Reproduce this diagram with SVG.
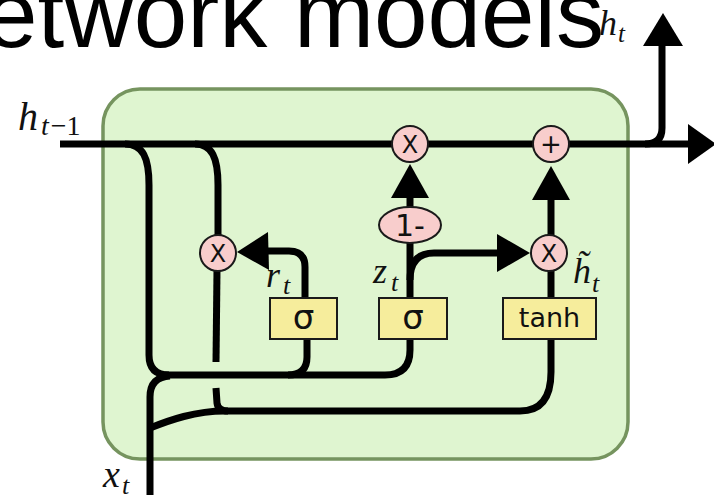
<svg xmlns="http://www.w3.org/2000/svg" width="714" height="495" viewBox="0 0 714 495">
  <style>
    .cell { fill: #dff5d0; stroke: #76945f; stroke-width: 3.5; }
    .wire { fill: none; stroke: #000; stroke-width: 7; stroke-linejoin: round; }
    .head { fill: #000; }
    .op { fill: #f8cdcc; stroke: #1a1a1a; stroke-width: 2; }
    .layer { fill: #f6ed9c; stroke: #1a1a1a; stroke-width: 2; }
    .optxt { font-family: "DejaVu Sans", sans-serif; fill: #111; text-anchor: middle; }
    .math { font-family: "Liberation Serif", "DejaVu Serif", serif; font-style: italic; fill: #111; }
    .title { font-family: "Liberation Sans", Arial, sans-serif; fill: #000; }
  </style>

  <!-- heading fragment above the cell -->
  <text class="title" x="-16" y="47" font-size="96" textLength="620" lengthAdjust="spacingAndGlyphs">etwork models</text>

  <!-- GRU cell body -->
  <rect id="cell" class="cell" x="103" y="89" width="525" height="370" rx="37" ry="37"/>

  <g id="connectors">
    <!-- hidden state path h(t-1) to h(t) -->
    <path class="wire" d="M60,144 L692,144"/>
    <polygon class="head" points="688,124 716,144 688,164"/>
    <path class="wire" d="M645,144 Q662,144 662,128 L662,44"/>
    <polygon class="head" points="643,46 663,13 683,46"/>

    <!-- branches of h(t-1) -->
    <path class="wire" d="M125,144 C143,144 149,158 149,185 L149,355 Q149,375 169,375"/>
    <path class="wire" d="M195,144 C212,144 218,158 218,185 L218,236"/>
    <path class="wire" d="M217,270 L216,362"/>
    <path class="wire" d="M216,388 L217,403 Q218,411 228,411"/>

    <!-- input x(t) -->
    <path class="wire" d="M150,498 L150,397 Q150,377 170,376"/>
    <path class="wire" d="M165,375 L385,375 Q410,375 410,350 L410,338"/>
    <path class="wire" d="M307,338 L307,357 Q307,375 288,375"/>
    <path class="wire" d="M150,428 C170,420 195,411 225,411 L520,411 Q551,411 551,372 L551,338"/>

    <!-- reset gate to multiply -->
    <path class="wire" d="M305,298 L305,267 Q305,251 289,251 L264,251"/>
    <polygon class="head" points="268,232 237,252 269,270"/>

    <!-- update gate -->
    <path class="wire" d="M410,298 L410,243"/>
    <path class="wire" d="M410,207 L410,196"/>
    <polygon class="head" points="391,198 410,164 429,198"/>
    <path class="wire" d="M410,280 Q410,253 434,253 L500,253"/>
    <polygon class="head" points="497,234 530,253 497,272"/>

    <!-- candidate state -->
    <path class="wire" d="M551,298 L551,271"/>
    <path class="wire" d="M551,235 L551,198"/>
    <polygon class="head" points="532,200 551,166 570,200"/>
  </g>

  <g id="mul_reset">
    <circle class="op" cx="218" cy="253" r="18"/>
    <text class="optxt" x="218" y="262" font-size="24">X</text>
  </g>
  <g id="mul_keep">
    <circle class="op" cx="410" cy="144" r="18"/>
    <text class="optxt" x="410" y="153" font-size="24">X</text>
  </g>
  <g id="add_state">
    <circle class="op" cx="551" cy="144" r="18"/>
    <text class="optxt" x="551" y="153" font-size="26">+</text>
  </g>
  <g id="mul_update">
    <circle class="op" cx="549" cy="253" r="18"/>
    <text class="optxt" x="549" y="262" font-size="24">X</text>
  </g>
  <g id="one_minus">
    <ellipse class="op" cx="410" cy="225" rx="31" ry="18"/>
    <text class="optxt" x="410" y="236" font-size="30">1-</text>
  </g>

  <g id="sigma_reset">
    <rect class="layer" x="270" y="298" width="67" height="41"/>
    <text class="optxt" x="303.5" y="329" font-size="34">σ</text>
  </g>
  <g id="sigma_update">
    <rect class="layer" x="379" y="298" width="68" height="41"/>
    <text class="optxt" x="413" y="329" font-size="34">σ</text>
  </g>
  <g id="tanh_layer">
    <rect class="layer" x="503" y="298" width="93" height="41"/>
    <text class="optxt" x="549.5" y="327" font-size="27">tanh</text>
  </g>

  <!-- labels -->
  <g id="labels">
    <text class="math" x="18" y="130" font-size="40">h</text>
    <text class="math" x="41" y="135" font-size="28">t<tspan font-style="normal" dx="2">−1</tspan></text>
    <text class="math" x="599" y="35" font-size="36" fill="#444">h</text>
    <text class="math" x="618" y="42" font-size="25" fill="#444">t</text>
    <text class="math" x="266" y="287" font-size="36">r</text>
    <text class="math" x="283" y="294" font-size="26">t</text>
    <text class="math" x="373" y="283" font-size="36">z</text>
    <text class="math" x="391" y="291" font-size="26">t</text>
    <text class="math" x="573" y="283" font-size="36">h&#x303;</text>
    <text class="math" x="592" y="292" font-size="26">t</text>
    <text class="math" x="103" y="487" font-size="38">x</text>
    <text class="math" x="122" y="494" font-size="26">t</text>
  </g>
</svg>
